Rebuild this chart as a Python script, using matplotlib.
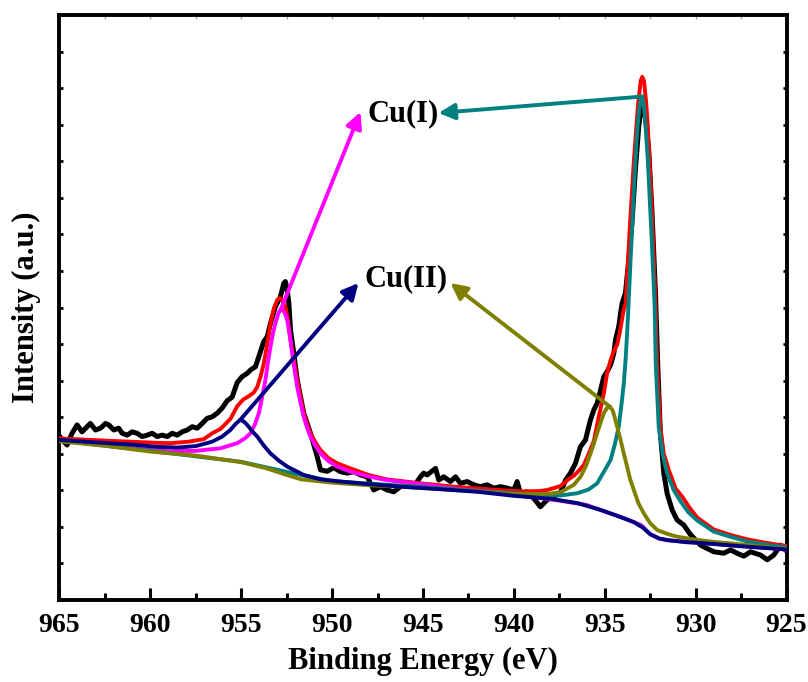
import matplotlib.pyplot as plt
from matplotlib.ticker import MultipleLocator, NullFormatter

plt.rcParams['font.family'] = ['Liberation Serif', 'DejaVu Serif']
plt.rcParams['font.weight'] = 'bold'

# Cu 2p spectrum (raw counts, arbitrary units)
raw_be = [965.04, 964.76, 964.58, 964.31, 964.03, 963.76, 963.48, 963.30, 963.02, 962.74,
          962.47, 962.29, 962.01, 961.74, 961.55, 961.28, 961.00, 960.73, 960.45, 960.17,
          959.90, 959.62, 959.35, 959.07, 958.80, 958.52, 958.25, 957.97, 957.70, 957.42,
          957.15, 956.87, 956.60, 956.32, 956.05, 955.77, 955.50, 955.22, 954.95, 954.67,
          954.49, 954.22, 954.03, 953.76, 953.57, 953.39, 953.12, 952.84, 952.66, 952.57,
          952.47, 952.38, 952.29, 952.11, 951.92, 951.74, 951.56, 951.19, 950.82, 950.64,
          950.27, 949.91, 949.54, 949.17, 948.81, 948.44, 948.07, 947.71, 947.34, 946.97,
          946.61, 946.24, 945.87, 945.51, 945.14, 944.96, 944.77, 944.31, 944.13, 943.86,
          943.49, 943.21, 942.94, 942.57, 942.20, 941.84, 941.47, 941.10, 940.74, 940.37,
          940.00, 939.82, 939.64, 939.27, 938.90, 938.54, 938.17, 937.80, 937.43, 937.16,
          936.89, 936.61, 936.34, 936.06, 935.79, 935.60, 935.42, 935.23, 935.05, 934.87,
          934.68, 934.50, 934.41, 934.23, 934.13, 934.04, 933.86, 933.68, 933.49, 933.31,
          933.12, 932.94, 932.76, 932.58, 932.40, 932.21, 932.08, 931.94, 931.75, 931.57,
          931.29, 931.02, 930.65, 930.30, 929.73, 929.37, 929.00, 928.45, 928.08, 927.72,
          927.35, 926.98, 926.43, 926.06, 925.70, 925.33, 925.06]
raw_int = [4.51, 4.33, 4.24, 4.56, 4.79, 4.60, 4.74, 4.83, 4.65, 4.70,
           4.83, 4.79, 4.65, 4.70, 4.56, 4.51, 4.60, 4.56, 4.47, 4.51,
           4.56, 4.47, 4.51, 4.47, 4.56, 4.51, 4.60, 4.65, 4.74, 4.70,
           4.83, 4.97, 5.01, 5.11, 5.25, 5.45, 5.55, 5.95, 6.11, 6.20,
           6.29, 6.38, 6.66, 7.07, 7.20, 7.57, 8.02, 8.30, 8.66, 8.71,
           8.48, 8.12, 7.39, 6.75, 6.02, 5.56, 5.11, 4.56, 3.92, 3.56,
           3.52, 3.62, 3.51, 3.47, 3.51, 3.42, 3.37, 3.01, 3.10, 3.01,
           2.96, 3.10, 3.19, 3.10, 3.37, 3.47, 3.42, 3.60, 3.28, 3.37,
           3.24, 3.37, 3.19, 3.24, 3.15, 3.10, 3.15, 3.06, 3.10, 3.06,
           3.01, 3.24, 2.92, 2.96, 2.78, 2.55, 2.74, 2.83, 2.95, 3.28,
           3.47, 3.74, 4.19, 4.38, 4.92, 5.20, 5.38, 5.74, 6.11, 6.25,
           6.43, 6.75, 7.11, 7.48, 7.84, 8.12, 8.40, 9.30, 10.40, 11.80,
           13.00, 13.60, 13.20, 12.30, 10.60, 8.40, 6.38, 4.56, 3.47, 2.92,
           2.46, 2.19, 2.05, 1.80, 1.50, 1.41, 1.32, 1.28, 1.37, 1.28,
           1.20, 1.32, 1.23, 1.10, 1.23, 1.50, 1.37]

# cumulative fit envelope
fit_be = [965.0, 962.5, 959.7, 958.9, 957.9, 957.06, 956.6, 956.14, 955.6, 955.22,
          954.9, 954.6, 954.3, 954.12, 953.94, 953.76, 953.57, 953.39, 953.2, 953.02,
          952.88, 952.75, 952.57, 952.43, 952.29, 952.1, 951.92, 951.74, 951.56, 951.37,
          951.19, 950.9, 950.64, 950.2, 949.72, 948.99, 948.0, 947.0, 945.1, 943.3,
          941.47, 939.6, 938.6, 938.17, 937.8, 937.43, 937.0, 936.7, 936.4, 936.15,
          935.88, 935.6, 935.33, 935.05, 934.87, 934.68, 934.5, 934.32, 934.18, 934.04,
          933.95, 933.85, 933.62, 933.40, 933.18, 933.02, 932.94, 932.84, 932.72, 932.63,
          932.45, 932.3, 932.21, 932.12, 931.94, 931.75, 931.48, 931.1, 930.74, 930.3,
          929.9, 929.0, 928.08, 927.16, 926.2, 925.3, 925.0]
fit_int = [4.42, 4.36, 4.30, 4.29, 4.33, 4.40, 4.56, 4.68, 4.95, 5.30,
           5.48, 5.57, 5.68, 5.83, 6.10, 6.47, 7.00, 7.57, 7.98, 8.21,
           8.26, 8.21, 8.02, 7.65, 7.11, 6.55, 6.02, 5.55, 5.11, 4.80,
           4.56, 4.30, 4.10, 3.88, 3.74, 3.60, 3.42, 3.30, 3.19, 3.10,
           3.03, 2.97, 2.98, 3.01, 3.06, 3.12, 3.30, 3.40, 3.55, 3.70,
           4.00, 4.35, 5.01, 5.65, 6.20, 6.56, 6.80, 6.98, 7.30, 7.70,
           7.95, 8.10, 10.20, 12.00, 13.50, 14.20, 14.31, 14.20, 13.60, 12.95,
           11.12, 9.30, 8.10, 6.38, 4.74, 4.00, 3.56, 3.05, 2.83, 2.50,
           2.25, 1.93, 1.78, 1.66, 1.57, 1.50, 1.48]

# Cu(I) 2p3/2 component (with background)
cu1_a_be = [965.0, 960.0, 955.0, 952.0, 950.0, 947.5, 945.0, 942.5, 940.0, 938.5,
            937.43, 936.52, 935.9, 935.42, 935.0, 934.68, 934.45, 934.23, 934.08, 933.95,
            933.85, 933.77, 933.68, 933.58, 933.49, 933.40, 933.31, 933.2, 933.10, 933.0,
            932.94, 932.86, 932.76, 932.63, 932.45, 932.33, 932.26, 932.19, 932.03, 931.8,
            931.57, 931.2, 930.83, 930.4, 929.9, 929.0, 928.08, 927.16, 926.2, 925.3, 925.0]
cu1_a_int = [4.36, 4.08, 3.78, 3.45, 3.25, 3.17, 3.09, 3.00, 2.92, 2.88,
             2.86, 2.92, 3.02, 3.19, 3.55, 3.83, 4.25, 4.74, 5.35, 5.93,
             6.60, 7.29, 8.21, 9.30, 10.21, 11.20, 12.03, 12.90, 13.45, 13.75,
             13.77, 13.60, 13.00, 12.03, 10.21, 8.90, 8.10, 6.40, 4.74, 3.95,
             3.47, 3.00, 2.70, 2.40, 2.17, 1.87, 1.73, 1.60, 1.52, 1.46, 1.44]

# Cu(II) 2p3/2 component (with background)
cu2_a_be = [965.0, 962.5, 960.0, 957.5, 955.0, 953.6, 952.5, 951.7, 950.0, 948.0,
            946.2, 944.0, 942.0, 940.0, 939.0, 938.0, 937.43, 937.07, 936.7, 936.33,
            936.05, 935.78, 935.6, 935.42, 935.23, 935.05, 934.88, 934.72, 934.56, 934.41,
            934.27, 934.13, 933.95, 933.77, 933.6, 933.4, 933.15, 932.85, 932.5, 932.1,
            931.5, 931.0, 930.0, 929.0, 928.08, 926.7, 925.3, 925.0]
cu2_a_int = [4.34, 4.22, 4.06, 3.95, 3.77, 3.60, 3.42, 3.30, 3.21, 3.14,
             3.10, 3.03, 2.97, 2.90, 2.90, 2.91, 2.95, 3.05, 3.15, 3.37,
             3.65, 4.01, 4.28, 4.56, 4.85, 5.11, 5.25, 5.29, 5.18, 4.92,
             4.65, 4.38, 4.00, 3.65, 3.30, 3.01, 2.65, 2.37, 2.10, 1.91,
             1.80, 1.73, 1.65, 1.59, 1.55, 1.48, 1.41, 1.40]

# Cu(II) 2p1/2 component (with background)
cu2_b_be = [965.0, 963.0, 961.0, 959.7, 958.5, 957.5, 956.6, 956.05, 955.6, 955.3,
            955.05, 954.85, 954.67, 954.4, 954.12, 953.75, 953.39, 952.9, 952.47, 951.56,
            950.64, 949.5, 948.0, 946.2, 944.0, 942.0, 940.0, 938.0, 936.5, 935.2,
            934.3, 933.4, 932.9, 932.5, 932.0, 931.55, 930.5, 929.7, 927.5, 925.2, 925.0]
cu2_b_int = [4.38, 4.31, 4.25, 4.19, 4.17, 4.21, 4.33, 4.47, 4.65, 4.82,
             4.93, 4.88, 4.79, 4.62, 4.47, 4.22, 4.01, 3.80, 3.65, 3.42,
             3.30, 3.24, 3.17, 3.10, 3.03, 2.96, 2.85, 2.77, 2.65, 2.46,
             2.30, 2.13, 1.98, 1.80, 1.68, 1.64, 1.58, 1.56, 1.47, 1.39, 1.38]

# Cu(I) 2p1/2 component (with background)
cu1_b_be = [965.0, 962.5, 960.0, 958.9, 957.5, 956.14, 955.22, 954.8, 954.49, 954.25,
            954.03, 953.85, 953.67, 953.53, 953.39, 953.25, 953.12, 952.95, 952.82, 952.7,
            952.58, 952.47, 952.33, 952.2, 952.06, 951.92, 951.74, 951.56, 951.37, 951.19,
            950.9, 950.64, 950.2, 949.72, 948.99, 948.0, 947.0, 945.1, 943.0, 941.0,
            939.0, 937.5, 936.0, 935.0, 934.0, 933.0, 932.5, 932.0, 931.5, 930.0, 928.0, 925.0]
cu1_b_int = [4.36, 4.24, 4.10, 4.07, 4.08, 4.15, 4.29, 4.42, 4.56, 4.80,
             5.11, 5.55, 6.02, 6.50, 6.93, 7.30, 7.57, 7.85, 7.95, 7.93,
             7.82, 7.66, 7.25, 6.75, 6.28, 5.83, 5.40, 5.01, 4.70, 4.47,
             4.20, 4.01, 3.80, 3.65, 3.51, 3.38, 3.28, 3.17, 3.03, 2.95,
             2.82, 2.72, 2.60, 2.42, 2.25, 2.05, 1.80, 1.68, 1.63, 1.57, 1.50, 1.38]

fig = plt.figure(figsize=(8.08, 6.82), dpi=100)
ax = fig.add_axes([0.0736, 0.1202, 0.8998, 0.8578])

ax.plot(raw_be, raw_int, color='black', lw=3.6, zorder=2)
ax.plot(fit_be, fit_int, color='red', lw=2.8, zorder=3)
ax.plot(cu1_b_be, cu1_b_int, color='#ff00ff', lw=2.8, zorder=4)
ax.plot(cu1_a_be, cu1_a_int, color='#008080', lw=2.8, zorder=5)
ax.plot(cu2_a_be, cu2_a_int, color='#808000', lw=2.8, zorder=6)
ax.plot(cu2_b_be, cu2_b_int, color='#000080', lw=2.8, zorder=7)


def peak_top(be, inten):
    i = inten.index(max(inten))
    return be[i], inten[i]


def arrow(tip, tail, color):
    ax.annotate('', xy=tip, xytext=tail,
                arrowprops=dict(arrowstyle='-|>', color=color, lw=2.8,
                                mutation_scale=24, shrinkA=0, shrinkB=0),
                zorder=10)


arrow((948.44, 13.35), peak_top(cu1_b_be, cu1_b_int), '#ff00ff')
arrow((944.15, 13.32), peak_top(cu1_a_be, cu1_a_int), '#008080')
arrow((948.55, 8.67), peak_top(cu2_b_be, cu2_b_int), '#000080')
arrow((943.49, 8.67), peak_top(cu2_a_be, cu2_a_int), '#808000')

ax.text(948.05, 13.3, 'Cu(I)', fontsize=22, fontweight='bold', va='center', ha='left')
ax.text(948.2, 8.8, 'Cu(II)', fontsize=22, fontweight='bold', va='center', ha='left')

ax.set_xlim(965, 925)
ax.set_ylim(0, 16)
ax.xaxis.set_major_locator(MultipleLocator(5))
ax.xaxis.set_minor_locator(MultipleLocator(2.5))
ax.yaxis.set_major_locator(MultipleLocator(1))
ax.yaxis.set_major_formatter(NullFormatter())

for s in ax.spines.values():
    s.set_linewidth(2.8)

ax.tick_params(axis='x', which='major', direction='in', length=8.5, width=2.2,
               labelsize=20, pad=9, top=False)
ax.tick_params(axis='x', which='minor', direction='in', length=5, width=2.2, top=False)
ax.tick_params(axis='y', which='major', direction='in', length=3, width=2,
               left=True, right=True)
for lab in ax.get_xticklabels():
    lab.set_fontweight('bold')

# faint ticks along the top edge
top = ax.secondary_xaxis('top')
top.xaxis.set_major_locator(MultipleLocator(2.5))
top.xaxis.set_major_formatter(NullFormatter())
top.tick_params(direction='in', length=3, width=1, color='0.65')
top.spines['top'].set_visible(False)

ax.set_xlabel('Binding Energy (eV)', fontsize=22, fontweight='bold', labelpad=7)
ax.set_ylabel('Intensity (a.u.)', fontsize=22, fontweight='bold', labelpad=10)

fig.savefig('out.png', dpi=100)
